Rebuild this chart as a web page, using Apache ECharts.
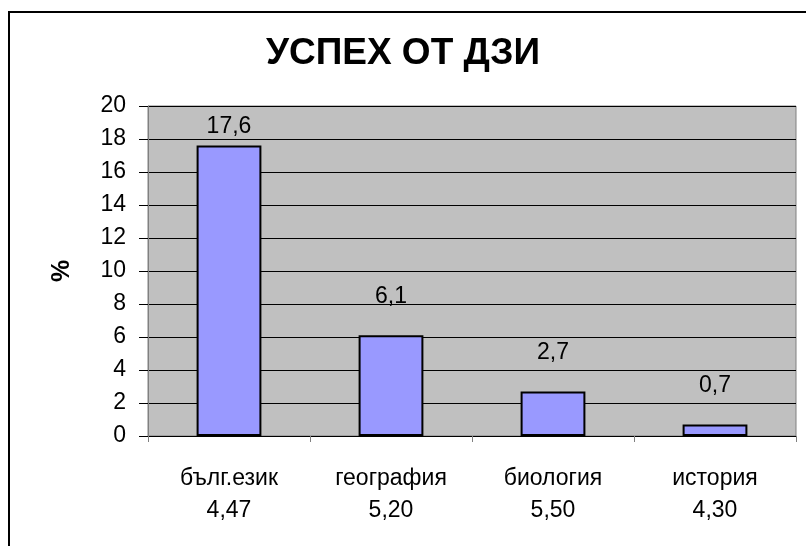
<!DOCTYPE html>
<html>
<head>
<meta charset="utf-8">
<script src="https://cdn.jsdelivr.net/npm/echarts@6/dist/echarts.min.js"></script>
<style>
  html, body { margin: 0; padding: 0; background: #fff; }
  #chart { width: 806px; height: 546px; }
</style>
</head>
<body>
<div id="chart"></div>
<script>
// данни
const subjects = ["бълг.език", "география", "биология", "история"];
const avgGrades = ["4,47", "5,20", "5,50", "4,30"];
const percents = [17.6, 6.1, 2.7, 0.7];
const yTicks = [0, 2, 4, 6, 8, 10, 12, 14, 16, 18, 20];

const font = "'Liberation Sans', Arial, sans-serif";
const comma = v => String(v).replace(".", ",");

const chart = echarts.init(document.getElementById("chart"));
const option = {
    animation: false,
    backgroundColor: "#fff",
    title: {
        text: "УСПЕХ ОТ ДЗИ",
        left: "center",
        top: 30,
        textStyle: { fontFamily: font, fontSize: 37, fontWeight: "bold", color: "#000" }
    },
    graphic: [{
        type: "rect",
        shape: { x: 9, y: 12, width: 900, height: 600 },
        style: { fill: "none", stroke: "#000", lineWidth: 2 },
        silent: true
    }],
    grid: {
        left: 148, right: 10, top: 106, bottom: 110,
        show: true,
        backgroundColor: "#C0C0C0",
        borderColor: "#808080",
        borderWidth: 1
    },
    xAxis: {
        type: "category",
        data: subjects.map((s, i) => s + "\n" + avgGrades[i]),
        axisLine: { lineStyle: { color: "#000", width: 1 } },
        axisTick: { show: true, length: 6, lineStyle: { color: "#808080" } },
        axisLabel: {
            margin: 27,
            fontFamily: font, fontSize: 23, color: "#000",
            lineHeight: 32, interval: 0
        }
    },
    yAxis: {
        type: "value",
        min: yTicks[0],
        max: yTicks[yTicks.length - 1],
        interval: 2,
        name: "%",
        nameLocation: "middle",
        nameGap: 73,
        nameRotate: 90,
        nameTextStyle: { fontFamily: font, fontSize: 25, fontWeight: "bold", color: "#000" },
        axisLine: { show: true, lineStyle: { color: "#808080" } },
        axisTick: { show: true, length: 9, lineStyle: { color: "#000" } },
        axisLabel: { margin: 22, fontFamily: font, fontSize: 23, color: "#000" },
        splitLine: { show: true, lineStyle: { color: "#000", width: 1 } }
    },
    series: [{
        type: "bar",
        barWidth: "40%",
        data: percents.map((v, i) => i === 0
            ? { value: v, label: { distance: 7 } }
            : v),
        itemStyle: { color: "#9999FF", borderColor: "#000", borderWidth: 2 },
        label: {
            show: true,
            position: "top",
            distance: 27,
            fontFamily: font, fontSize: 23, color: "#000",
            formatter: p => comma(p.value)
        }
    }]
};
chart.setOption(option);
window.addEventListener("resize", () => chart.resize());
</script>
</body>
</html>
